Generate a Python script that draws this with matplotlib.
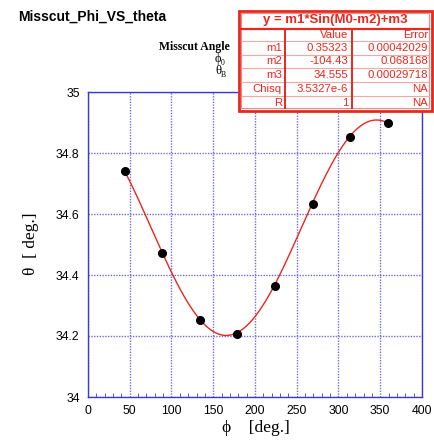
import numpy as np
import matplotlib.pyplot as plt

# measured points: azimuth phi vs Bragg angle theta
phi = [44, 89, 134, 179, 224, 269, 314, 359]
theta = [34.742, 34.471, 34.254, 34.206, 34.365, 34.633, 34.854, 34.898]

# fit y = m1*sin(x - m2) + m3
m1, m2, m3 = 0.35323, -104.43, 34.555
fit_rows = [
    ("m1", "0.35323", "0.00042029"),
    ("m2", "-104.43", "0.068168"),
    ("m3", "34.555", "0.00029718"),
    ("Chisq", "3.5327e-6", "NA"),
    ("R", "1", "NA"),
]

W, H = 435, 440
fig = plt.figure(figsize=(W / 100, H / 100), dpi=100)
ax = fig.add_axes([88 / W, 1 - 397 / H, 334 / W, 305 / H])

xs = np.linspace(phi[0], 355, 300)
ax.plot(xs, m1 * np.sin(np.radians(xs - m2)) + m3, color='#e8281e', lw=1.0, zorder=3)
ax.plot(phi, theta, 'o', color='black', ms=5.5, zorder=4)

ax.set_xlim(0, 400)
ax.set_ylim(34, 35)
ax.set_xticks(range(0, 401, 50))
ax.set_xticks(range(0, 401, 10), minor=True)
ax.set_yticks([34, 34.2, 34.4, 34.6, 34.8, 35])
ax.set_yticklabels(['34', '34.2', '34.4', '34.6', '34.8', '35'])
ax.grid(True, which='major', color='#6e6ee0', ls=(0, (1, 1)), lw=1.0)
for s in ax.spines.values():
    s.set_color('#3a3ad0')
    s.set_linewidth(1.0)
ax.tick_params(which='both', direction='in', colors='#3a3ad0', labelcolor='black',
               labelsize=8.8, labelfontfamily='Liberation Sans')
ax.tick_params(which='major', length=0, pad=6)
ax.tick_params(which='minor', length=3, left=False)
ax.tick_params(axis='x', which='major', length=0, pad=6)

# overlay in figure pixels for title, axis names, legend text and fit table
ov = fig.add_axes([0, 0, 1, 1], zorder=10)
ov.set_xlim(0, W)
ov.set_ylim(H, 0)
ov.axis('off')

serif = ['Liberation Serif', 'DejaVu Serif']
ov.text(256, 428, '\u03d5    [deg.]', fontsize=12.5, fontfamily=serif,
        ha='center', va='center')
ov.text(31, 244, '\u03b8  [ deg.]', fontsize=12.5, fontfamily=serif,
        ha='center', va='center', rotation=90)

ov.text(18, 17, 'Misscut_Phi_VS_theta', fontsize=10, fontweight='bold',
        fontfamily='Liberation Sans', va='center', ha='left')
ov.text(230, 47, 'Misscut Angle', fontsize=8.5, fontweight='bold',
        fontfamily=serif, va='center', ha='right')
ov.text(221, 59, '\u03d5', fontsize=9, fontfamily=serif, va='center', ha='right')
ov.text(225, 63, '0', fontsize=5.5, fontfamily=serif, va='center', ha='right')
ov.text(221, 71, '\u03b8', fontsize=9, fontfamily=serif, va='center', ha='right')
ov.text(226, 75, 'B', fontsize=5.5, fontfamily=serif, va='center', ha='right')

red = '#e8281e'
x0, x1, y0, y1 = 239, 432, 11, 111
ov.add_patch(plt.Rectangle((x0, y0), x1 - x0, y1 - y0, facecolor='white',
                           edgecolor=red, lw=2.0))
ov.add_patch(plt.Rectangle((x0 + 2.5, y0 + 2.5), x1 - x0 - 5, y1 - y0 - 5, facecolor='none',
                           edgecolor='#f08a84', lw=0.8))
row_y = [29, 41, 55, 68, 82, 96, 110]
ov.plot([x0 + 2.5, x1 - 2.5], [29, 29], color=red, lw=1.6)
for yy in row_y[1:-1]:
    ov.plot([x0 + 2.5, x1 - 2.5], [yy, yy], color='#f4a8a4', lw=0.8)
for xx in (285, 352):
    ov.plot([xx, xx], [29, y1 - 2.5], color=red, lw=1.4)

ov.text((x0 + x1) / 2, 20, 'y = m1*Sin(M0-m2)+m3', color=red, fontsize=9.5,
        fontweight='bold', fontfamily='Liberation Sans', ha='center', va='center')
cell = dict(color=red, fontsize=8.2, fontfamily='Liberation Sans', ha='right', va='center')
ov.text(348, 35, 'Value', **cell)
ov.text(428, 35, 'Error', **cell)
for i, (name, val, err) in enumerate(fit_rows):
    yc = (row_y[i + 1] + row_y[i + 2]) / 2
    ov.text(282, yc, name, **cell)
    ov.text(348, yc, val, **cell)
    ov.text(428, yc, err, **cell)

fig.savefig('out.png', dpi=100)
